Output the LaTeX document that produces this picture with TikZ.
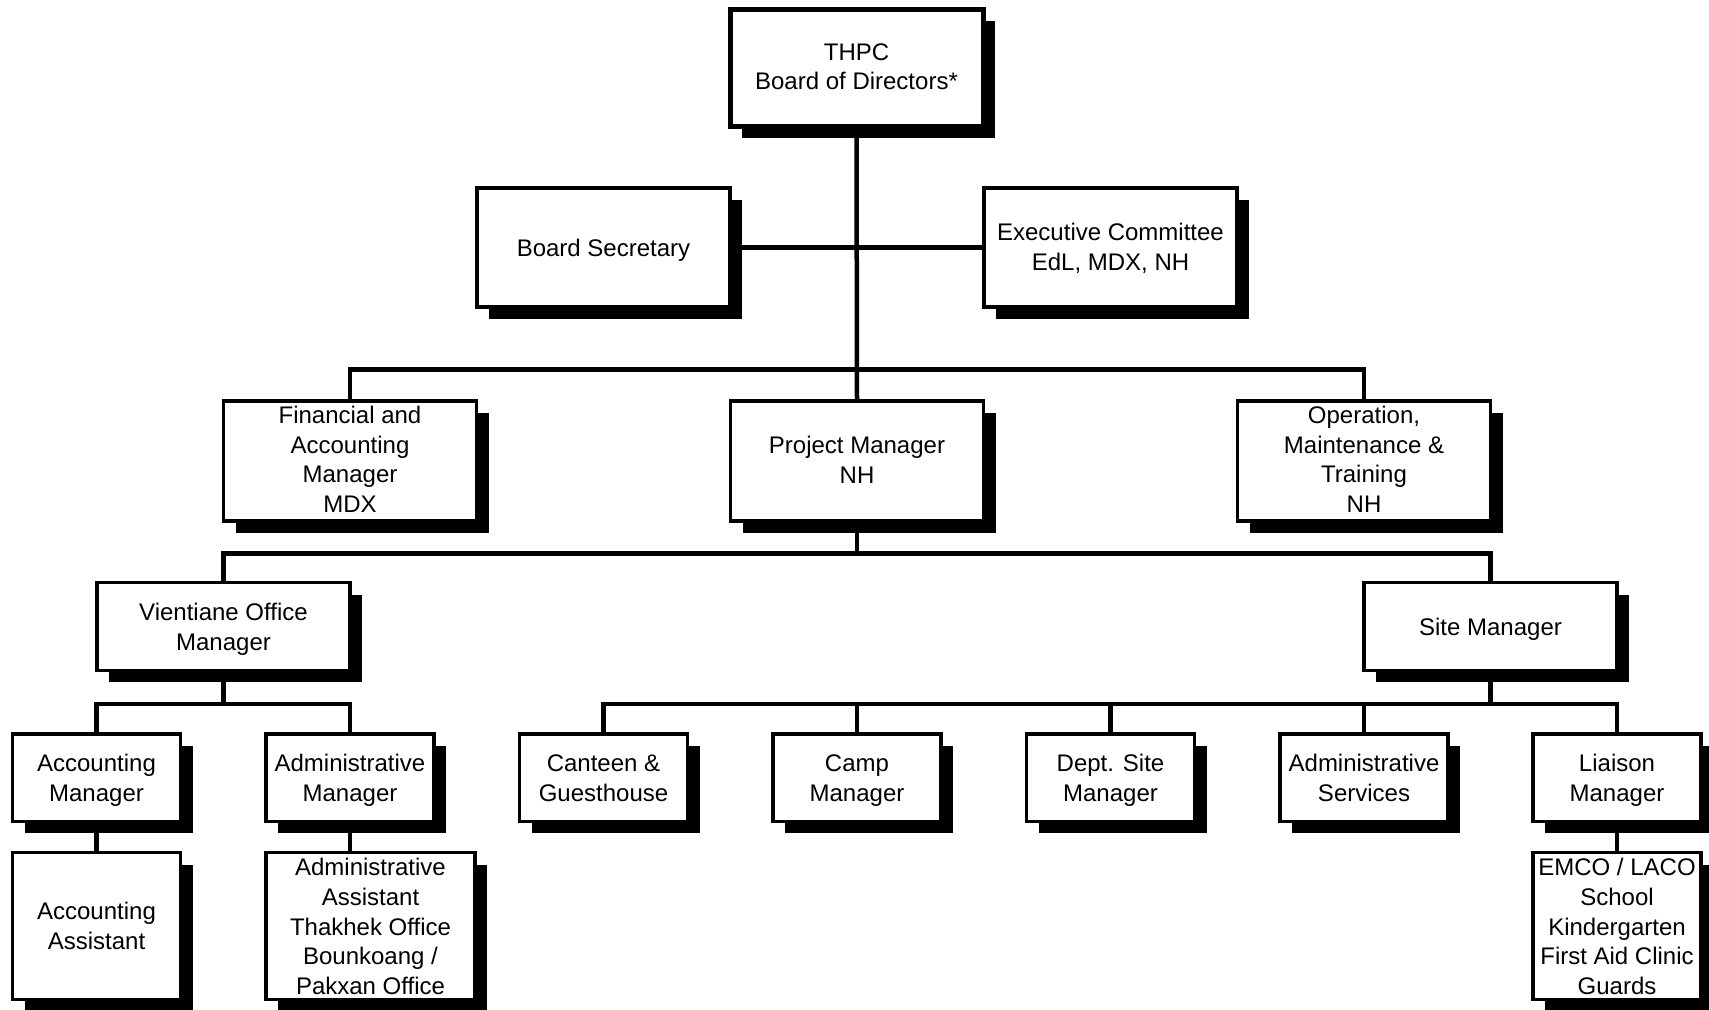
\documentclass[tikz,border=0pt]{standalone}
\usepackage{fontspec}
\setmainfont{Liberation Sans}
\usetikzlibrary{shadows}
\newcommand{\orgbox}[5]{%
  \node[#1] (#2) at (#3) {};
  \node[txt,#4] (#2-t) at (#2) {#5};}
\begin{document}
\begin{tikzpicture}[x=0.5pt,y=-0.5pt,
  box/.style={draw, line width=1.75pt, fill=white, inner sep=0pt,
    general shadow={shadow xshift=6pt, shadow yshift=-6pt, fill=black}},
  txt/.style={align=center, inner sep=0pt, font=\fontsize{12}{14.9}\selectfont},
  one/.style={yshift=-1.6pt},
  two/.style={yshift=-1.4pt},
  twoflat/.style={yshift=-0.3pt},
  bigtwo/.style={yshift=-0.3pt},
  four/.style={yshift=0.8pt},
  five/.style={yshift=-0.3pt},
  bigbox/.style={box, minimum width=126.5pt, minimum height=59.5pt},
  midbox/.style={box, minimum width=126.5pt, minimum height=43.75pt},
  smallbox/.style={box, minimum width=84pt, minimum height=43.75pt},
  tallbox/.style={box, minimum width=84pt, minimum height=73.5pt},
  link/.style={line width=2.25pt, line join=miter}]
\useasboundingbox (0,0) rectangle (1709,1010);

% connectors (drawn first, beneath boxes)
\begin{scope}[link]
\draw (856.5,127) -- (857,401);
\draw (730,247.5) -- (984,247.5);
\draw (350,401) -- (350,369.5) -- (1364,369.5) -- (1364,401);
\draw (857,521) -- (857,553.5);
\draw (223.5,582.5) -- (223.5,553.5) -- (1490.5,553.5) -- (1490.5,582.5);
\draw (223.5,670) -- (223.5,704);
\draw (96.5,733.5) -- (96.5,704) -- (350,704) -- (350,733.5);
\draw (1490.5,670) -- (1490.5,704);
\draw (603.5,733.5) -- (603.5,704) -- (1617,704) -- (1617,733.5);
\draw (857,704) -- (857,733.5);
\draw (1110.5,704) -- (1110.5,733.5);
\draw (1364,704) -- (1364,733.5);
\draw (96.5,821) -- (96.5,852.5);
\draw (350,821) -- (350,852.5);
\draw (1617,821) -- (1617,852.5);
\end{scope}

% boxes
\orgbox{bigbox, line width=2.5pt, minimum height=58.5pt}{thpc}{856.5,68}{yshift=0.6pt}{THPC\\Board of Directors*}
\orgbox{bigbox}{bs}{603.5,247.5}{one}{Board Secretary}
\orgbox{bigbox}{ec}{1110.5,247.5}{bigtwo}{Executive Committee\\EdL, MDX, NH}
\orgbox{bigbox, minimum height=60pt}{fin}{350,461}{four}{Financial and\\Accounting\\Manager\\MDX}
\orgbox{bigbox, minimum height=60pt}{pm}{857,461}{yshift=0.6pt}{Project Manager\\NH}
\orgbox{bigbox, minimum height=60pt}{op}{1364,461}{four}{Operation,\\Maintenance \&\\Training\\NH}
\orgbox{midbox}{vie}{223.5,626.5}{two}{Vientiane Office\\Manager}
\orgbox{midbox}{site}{1490.5,626.5}{one}{Site Manager}
\orgbox{smallbox}{acm}{96.5,777.5}{two}{Accounting\\Manager}
\orgbox{smallbox}{adm}{350,777.5}{two}{Administrative\\Manager}
\orgbox{smallbox}{can}{603.5,777.5}{twoflat}{Canteen \&\\Guesthouse}
\orgbox{smallbox}{camp}{857,777.5}{two}{Camp\\Manager}
\orgbox{smallbox}{dept}{1110.5,777.5}{two}{Dept. Site\\Manager}
\orgbox{smallbox}{admsv}{1364,777.5}{twoflat}{Administrative\\Services}
\orgbox{smallbox}{lia}{1617,777.5}{two}{Liaison\\Manager}
\orgbox{tallbox}{acs}{96.5,926}{yshift=0.2pt}{Accounting\\Assistant}
\orgbox{tallbox, minimum width=104.5pt}{aas}{370.5,926}{five}{Administrative\\Assistant\\Thakhek Office\\Bounkoang /\\Pakxan Office}
\orgbox{tallbox}{emco}{1617,926}{five}{EMCO / LACO\\School\\Kindergarten\\First Aid Clinic\\Guards}
\end{tikzpicture}
\end{document}
